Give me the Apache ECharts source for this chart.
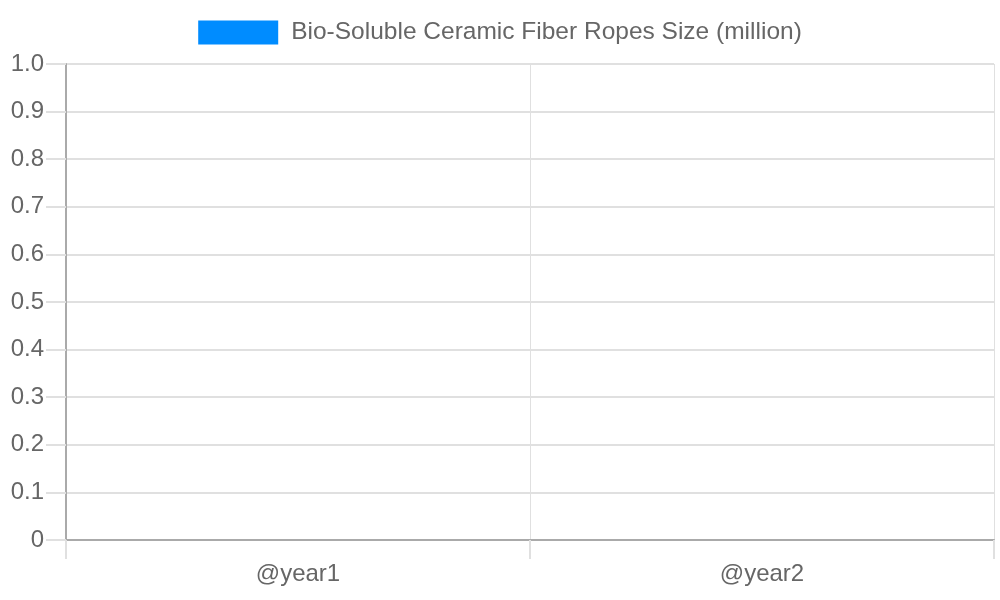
<!DOCTYPE html>
<html>
<head>
<meta charset="utf-8">
<script src="https://cdn.jsdelivr.net/npm/echarts@6/dist/echarts.min.js"></script>
<style>
html,body{margin:0;padding:0;background:#fff;}
#chart{width:1000px;height:600px;}
</style>
</head>
<body>
<div id="chart"></div>
<script>
const categories = ['@year1', '@year2'];
const seriesName = 'Bio-Soluble Ceramic Fiber Ropes Size (million)';
const sizeValues = [null, null];
const yMin = 0, yMax = 1, yStep = 0.1;

const chart = echarts.init(document.getElementById('chart'), null, {renderer: 'canvas'});
const font = 'Liberation Sans, Arial, sans-serif';
chart.setOption({
  animation: false,
  color: ['#008cff'],
  legend: {
    top: 15,
    left: 'center',
    icon: 'rect',
    itemWidth: 80,
    itemHeight: 24,
    textStyle: {fontFamily: font, fontSize: 24.5, color: '#666', padding: [0, 0, 0, 8]},
    data: [seriesName]
  },
  grid: {left: 66, right: 6, top: 64, bottom: 60, containLabel: false},
  xAxis: {
    type: 'category',
    data: categories,
    boundaryGap: true,
    axisLine: {show: true, lineStyle: {color: '#aaa', width: 2}},
    axisTick: {show: true, length: 19, lineStyle: {color: '#e0e0e0', width: 2}},
    splitLine: {show: true, lineStyle: {color: '#e0e0e0', width: 1}},
    axisLabel: {fontFamily: font, fontSize: 24, color: '#666', margin: 22}
  },
  yAxis: {
    type: 'value',
    min: yMin, max: yMax, interval: yStep,
    axisLine: {show: true, lineStyle: {color: '#aaa', width: 2}},
    axisTick: {show: true, length: 20, lineStyle: {color: '#e0e0e0', width: 2}},
    splitLine: {show: true, lineStyle: {color: '#e0e0e0', width: 2}},
    axisLabel: {
      fontFamily: font, fontSize: 24, color: '#666', margin: 22,
      formatter: v => v === 0 ? '0' : v.toFixed(1)
    }
  },
  series: [{name: seriesName, type: 'bar', data: sizeValues}]
});
</script>
</body>
</html>
